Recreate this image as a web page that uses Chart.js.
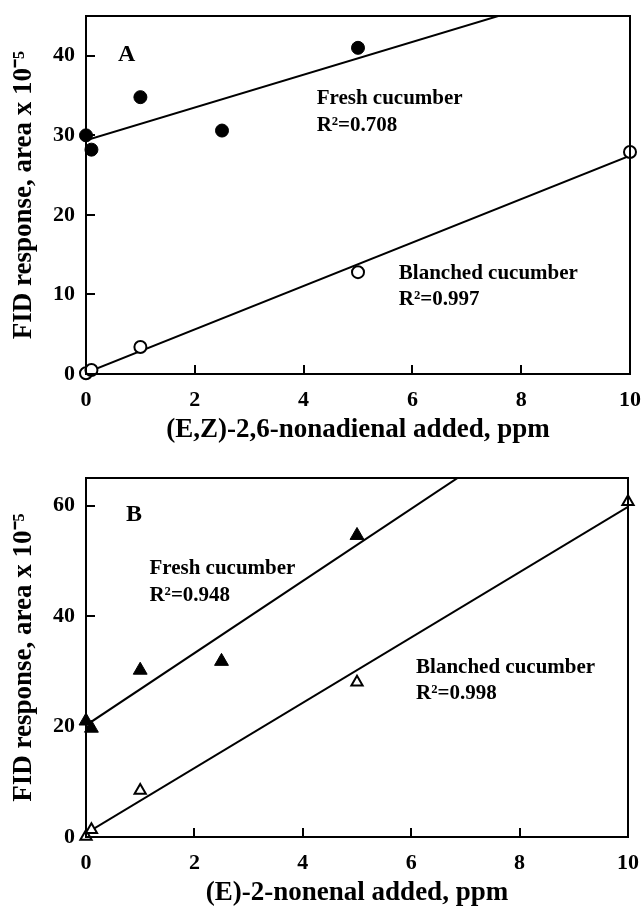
<!DOCTYPE html>
<html>
<head>
<meta charset="utf-8">
<script src="https://cdn.jsdelivr.net/npm/chart.js@4.4.1/dist/chart.umd.min.js"></script>
<style>
    body { margin: 0; background: #fff; }
    #wrap { position: relative; width: 642px; height: 915px; }
    canvas { position: absolute; left: 0; }
    #chartA { top: 0; }
    #chartB { top: 455px; }
</style>
</head>
<body>
<div id="wrap">
    <canvas id="chartA" width="642" height="455"></canvas>
    <canvas id="chartB" width="642" height="460"></canvas>
</div>
<script>
// ===========================
// Data
// ===========================

// Panel A: (E,Z)-2,6-nonadienal
const doseFreshA = [0, 0.1, 1, 2.5, 5];
const freshA = [30.0, 28.2, 34.8, 30.6, 41.0];
const doseBlanchedA = [0, 0.1, 1, 5, 10];
const blanchedA = [0.1, 0.5, 3.4, 12.8, 27.9];

// Panel B: (E)-2-nonenal
const doseFreshB = [0, 0.1, 1, 2.5, 5];
const freshB = [21.0, 19.7, 30.2, 31.8, 54.6];
const doseBlanchedB = [0, 0.1, 1, 5, 10];
const blanchedB = [0.1, 1.3, 8.4, 28.0, 60.7];

const xTicks = [0, 2, 4, 6, 8, 10];
const yTicksA = [0, 10, 20, 30, 40];
const yTicksB = [0, 20, 40, 60];

const SERIF = '"Liberation Serif", "Times New Roman", serif';

// ===========================
// Helpers
// ===========================

function toPoints(xs, ys) {
    return xs.map((x, i) => ({ x: x, y: ys[i] }));
}

// least-squares fit, drawn across the whole x range
function fitLine(xs, ys, x0, x1) {
    const n = xs.length;
    const mx = xs.reduce((a, b) => a + b, 0) / n;
    const my = ys.reduce((a, b) => a + b, 0) / n;
    let sxx = 0, sxy = 0;
    xs.forEach((x, i) => {
        sxx += (x - mx) * (x - mx);
        sxy += (x - mx) * (ys[i] - my);
    });
    const slope = sxy / sxx;
    const icpt = my - slope * mx;
    return [{ x: x0, y: icpt + slope * x0 }, { x: x1, y: icpt + slope * x1 }];
}

// scales would otherwise reserve room for edge labels + tick padding
function noEdgePadding(s) {
    s.paddingTop = 0;
    s.paddingBottom = 0;
    s.paddingLeft = 0;
    s.paddingRight = 0;
}

// frame around the plot area + text notes placed in data units
const framePlugin = {
    id: 'frame',
    afterDatasetsDraw(chart) {
        const { ctx, chartArea: a } = chart;
        ctx.save();
        ctx.strokeStyle = '#000';
        ctx.lineWidth = 2;
        ctx.strokeRect(a.left, a.top, a.right - a.left, a.bottom - a.top);
        ctx.restore();
    },
    afterDraw(chart) {
        const notes = chart.options.plugins.frame.notes || [];
        const { ctx, scales } = chart;
        ctx.save();
        ctx.fillStyle = '#000';
        ctx.textBaseline = 'alphabetic';
        ctx.textAlign = 'left';
        notes.forEach(n => {
            ctx.font = `bold ${n.size || 21}px ${SERIF}`;
            ctx.fillText(n.text, scales.x.getPixelForValue(n.x), scales.y.getPixelForValue(n.y));
        });
        ctx.restore();
    }
};

function makePanel(id, cfg) {
    const ctx = document.getElementById(id);
    return new Chart(ctx, {
        type: 'scatter',
        data: {
            datasets: [
                {
                    label: 'Fresh cucumber',
                    data: toPoints(cfg.doseFresh, cfg.fresh),
                    pointStyle: cfg.marker,
                    pointRadius: cfg.filledRadius,
                    backgroundColor: '#000',
                    borderColor: '#000',
                    borderWidth: 1,
                    clip: false,
                    order: 0
                },
                {
                    label: 'Blanched cucumber',
                    data: toPoints(cfg.doseBlanched, cfg.blanched),
                    pointStyle: cfg.marker,
                    pointRadius: cfg.openRadius,
                    backgroundColor: '#fff',
                    borderColor: '#000',
                    borderWidth: 2,
                    clip: false,
                    order: 0
                },
                {
                    label: 'fit fresh',
                    data: fitLine(cfg.doseFresh, cfg.fresh, 0, 10),
                    showLine: true,
                    pointRadius: 0,
                    borderColor: '#000',
                    borderWidth: 2,
                    clip: 0,
                    order: 1
                },
                {
                    label: 'fit blanched',
                    data: fitLine(cfg.doseBlanched, cfg.blanched, 0, 10),
                    showLine: true,
                    pointRadius: 0,
                    borderColor: '#000',
                    borderWidth: 2,
                    clip: 0,
                    order: 1
                }
            ]
        },
        options: {
            responsive: false,
            animation: false,
            events: [],
            layout: {
                padding: { top: cfg.padTop, right: cfg.padRight, left: 0, bottom: 0 }
            },
            plugins: {
                legend: { display: false },
                tooltip: { enabled: false },
                frame: { notes: cfg.notes }
            },
            scales: {
                x: {
                    type: 'linear',
                    min: 0,
                    max: 10,
                    afterBuildTicks: s => { s.ticks = xTicks.map(v => ({ value: v })); },
                    afterFit: s => { s.height = cfg.xAxisHeight; noEdgePadding(s); },
                    border: { display: false },
                    grid: {
                        drawOnChartArea: false,
                        drawTicks: true,
                        tickLength: -9,
                        color: '#000',
                        lineWidth: 2
                    },
                    ticks: {
                        padding: 22,
                        color: '#000',
                        font: { family: SERIF, size: 22, weight: 'bold' }
                    },
                    title: {
                        display: true,
                        text: cfg.xTitle,
                        color: '#000',
                        padding: { top: 0, bottom: cfg.xTitlePad },
                        font: { family: SERIF, size: 27, weight: 'bold' }
                    }
                },
                y: {
                    type: 'linear',
                    min: 0,
                    max: cfg.yMax,
                    afterBuildTicks: s => { s.ticks = cfg.yTicks.map(v => ({ value: v })); },
                    afterFit: s => { s.width = 86; noEdgePadding(s); },
                    border: { display: false },
                    grid: {
                        drawOnChartArea: false,
                        drawTicks: true,
                        tickLength: -9,
                        color: '#000',
                        lineWidth: 2
                    },
                    ticks: {
                        padding: 20,
                        color: '#000',
                        font: { family: SERIF, size: 22, weight: 'bold' }
                    },
                    title: {
                        display: true,
                        text: 'FID response, area x 10\u207B\u2075',
                        color: '#000',
                        padding: { top: 8, bottom: 0 },
                        font: { family: SERIF, size: 27, weight: 'bold' }
                    }
                }
            }
        },
        plugins: [framePlugin]
    });
}

// ===========================
// Panels
// ===========================

makePanel('chartA', {
    doseFresh: doseFreshA, fresh: freshA,
    doseBlanched: doseBlanchedA, blanched: blanchedA,
    marker: 'circle', filledRadius: 6.5, openRadius: 6,
    yMax: 45, yTicks: yTicksA,
    xTitle: '(E,Z)-2,6-nonadienal added, ppm',
    padTop: 16, padRight: 12, xAxisHeight: 81, xTitlePad: 9,
    notes: [
        { x: 0.59, y: 39.3, text: 'A', size: 24 },
        { x: 4.24, y: 33.9, text: 'Fresh cucumber' },
        { x: 4.24, y: 30.6, text: 'R\u00B2=0.708' },
        { x: 5.75, y: 12.0, text: 'Blanched cucumber' },
        { x: 5.75, y: 8.7, text: 'R\u00B2=0.997' }
    ]
});

makePanel('chartB', {
    doseFresh: doseFreshB, fresh: freshB,
    doseBlanched: doseBlanchedB, blanched: blanchedB,
    marker: 'triangle', filledRadius: 8, openRadius: 6.5,
    yMax: 65, yTicks: yTicksB,
    xTitle: '(E)-2-nonenal added, ppm',
    padTop: 23, padRight: 14, xAxisHeight: 78, xTitlePad: 6,
    notes: [
        { x: 0.74, y: 57.3, text: 'B', size: 24 },
        { x: 1.17, y: 47.6, text: 'Fresh cucumber' },
        { x: 1.17, y: 42.7, text: 'R\u00B2=0.948' },
        { x: 6.09, y: 29.7, text: 'Blanched cucumber' },
        { x: 6.09, y: 25.0, text: 'R\u00B2=0.998' }
    ]
});
</script>
</body>
</html>
